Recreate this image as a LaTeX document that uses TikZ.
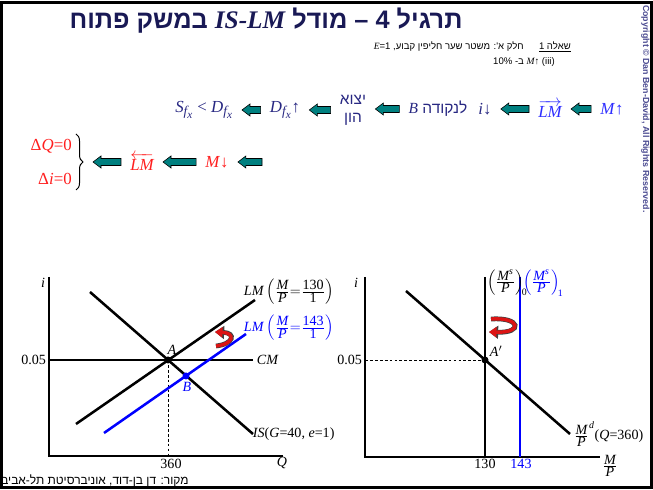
\documentclass[tikz,border=0pt]{standalone}
\usepackage{amsmath}
\usepackage{fontspec}
\setmainfont{Liberation Sans}
\newfontfamily\heb[Script=Hebrew]{Liberation Sans}
\newfontfamily\tms{Liberation Serif}
\TeXXeTstate=1
\usetikzlibrary{calc,arrows.meta,decorations.pathreplacing}

\definecolor{titlenavy}{RGB}{25,25,85}
\definecolor{chainnavy}{RGB}{40,40,130}
\definecolor{chainblue}{RGB}{45,45,255}
\definecolor{redtxt}{RGB}{255,30,30}
\definecolor{arrteal}{RGB}{0,128,128}
\definecolor{hookred}{RGB}{220,20,20}
\definecolor{copyblue}{RGB}{75,75,145}

\newcommand\mvar[1]{\text{\tms\itshape #1}}
\newcommand\fv[1]{\mbox{\tms\itshape #1}}
\newcommand\fn[1]{\mbox{\tms #1}}
\newcommand\supv[1]{\mbox{\tms\itshape\fontsize{7}{8}\selectfont #1}}
\newcommand\fxsub{\mbox{\tms\itshape\fontsize{9.5}{11}\selectfont f\raisebox{-2pt}{\fontsize{8}{9}\selectfont x}}}

\begin{document}
\begin{tikzpicture}[x=0.025cm,y=-0.025cm,
  flowtxt/.style={inner sep=0pt, font=\tms\fontsize{12}{14}\selectfont},
  hebtxt/.style={inner sep=0pt, font=\heb\fontsize{11}{13}\selectfont},
  blockarr/.style={draw=black, line width=0.4pt, fill=arrteal,
    to path={let \p1=(\tikztostart), \p2=(\tikztotarget) in
      (\x1-6.4pt,\y1+2.5pt) -- (\x2+12.1pt,\y1+2.5pt) -- (\x2+12.1pt,\y1+4.3pt)
      -- (\x2+6.4pt,\y1) -- (\x2+12.1pt,\y1-4.3pt) -- (\x2+12.1pt,\y1-2.5pt)
      -- (\x1-6.4pt,\y1-2.5pt) -- cycle}},
  gline/.style={line width=1.8pt},
  axisl/.style={line width=1.1pt},
  guide/.style={line width=0.5pt, dash pattern=on 2pt off 1.5pt},
  glabel/.style={inner sep=0.5pt, font=\tms\fontsize{10}{12}\selectfont},
  hookback/.style={line width=3.4pt, draw=black!75, -{Triangle[length=6.5pt,width=9pt]}},
  hookfront/.style={line width=2.4pt, draw=hookred, -{Triangle[length=5.3pt,width=7.2pt]}}]
\useasboundingbox (0,0) rectangle (653,490);

% heading
\node[font=\heb\bfseries\fontsize{18}{22}\selectfont, text=titlenavy] (title) at (266,21)
  {\beginR תרגיל 4 – מודל \beginL{\tms\bfseries\itshape IS-LM}\endL{} במשק פתוח\endR};
\node[anchor=east, inner sep=0pt, font=\heb\fontsize{6.8}{8}\selectfont] (q1) at (571,47)
  {\beginR\underline{\beginR שאלה 1\endR}\hspace{1.6em}חלק א': משטר שער חליפין קבוע, \beginL{\tms\itshape E}{\rmfamily =1}\endL\endR};
\node[anchor=east, inner sep=0pt, font=\heb\fontsize{6.8}{8}\selectfont] (q2) at (555,62)
  {\beginR\beginL{\rmfamily (iii)}\endL{} \beginL{\tms\itshape M}{\tms ↑}\endL{} ב- {\rmfamily 10\%}\endR};

% upper chain
\node[flowtxt, text=chainblue] (mup) at (612,109) {\textit{M}↑};
\node[flowtxt, text=chainblue] (lmr) at (550,109) {$\overrightarrow{\mvar{LM}}$};
\node[flowtxt, text=chainnavy] (idn) at (485,109) {\textit{i}↓};
\node[hebtxt, text=chainnavy] (topb) at (438,109) {\beginR לנקודה \beginL{\tms\itshape B}\endL\endR};
\node[hebtxt, text=chainnavy, align=center] (capx) at (353,110) {\beginR יצוא\endR\\\beginR הון\endR};
\node[flowtxt, text=chainnavy] (dfu) at (285,110) {$\fv{D}_{\fxsub}$↑};
\node[flowtxt, text=chainnavy] (sd) at (204,110)
  {$\fv{S}_{\fxsub}$ < $\fv{D}_{\fxsub}$};
\draw[blockarr] (mup.west) to (lmr.east);
\draw[blockarr] (lmr.west) to (idn.east);
\draw[blockarr] (topb.west) to (capx.east);
\draw[blockarr] (capx.west) to (dfu.east);
\draw[blockarr] (dfu.west) to (sd.east);

% lower chain
\coordinate (rstart) at (271,162);
\coordinate (brtop) at (76,134);
\coordinate (brbot) at (76,190);
\coordinate (brtip) at (84,162);
\node[flowtxt, text=redtxt] (mdn) at (217,162) {\textit{M}↓};
\node[flowtxt, text=redtxt] (lml) at (142,162) {$\overleftarrow{\mvar{LM}}$};
\node[flowtxt, text=redtxt, anchor=east] (dq) at (72,146) {Δ\textit{Q}=0};
\node[flowtxt, text=redtxt, anchor=east] (di) at (72,179) {Δ\textit{i}=0};
\draw[line width=0.7pt, decorate, decoration={brace, amplitude=5pt}] (brtop) -- (brbot);
\draw[blockarr] (rstart) to (mdn.east);
\draw[blockarr] (mdn.west) to (lml.east);
\draw[blockarr] (lml.west) to (brtip);

% left graph: IS-LM
\coordinate (o1) at (49,456);
\coordinate (ptA) at (168,360);
\coordinate (ptB) at (186,376);
\draw[axisl] (49,277) -- (o1) -- (283,456);
\draw[guide] (ptA) -- (168,456);
\draw[gline] (49,360) -- (253,360);
\draw[gline] (90,292) -- (253,434);
\draw[gline] (76,424) -- (255,300);
\draw[gline, blue] (104,433) -- (246,334);
\fill (ptA) circle (3.5);
\fill[blue] (ptB) circle (3.5);
\draw[hookback] (216,346) .. controls (234,344) and (236,333) .. (215,332);
\draw[hookfront] (216,346) .. controls (234,344) and (236,333) .. (215,332);
\node[glabel] (i1) at (43,283) {\textit{i}};
\node[glabel, anchor=east] (r1) at (47,360) {0.05};
\node[glabel] (q0) at (171,464) {360};
\node[glabel] (qax) at (282,463) {\textit{Q}};
\node[glabel, anchor=west] (cm) at (256,360) {\textit{CM}};
\node[glabel] (lA) at (172,350) {\textit{A}};
\node[glabel, text=blue] (lB) at (187,387) {\textit{B}};
\node[glabel, anchor=west] (lm0) at (243,292)
  {\textit{LM}\,$\left(\frac{\fv{M}}{\fv{P}}{=}\frac{\fn{130}}{\fn{1}}\right)$};
\node[glabel, anchor=west, text=blue] (lm1) at (243,328)
  {\textit{LM}\,$\left(\frac{\fv{M}}{\fv{P}}{=}\frac{\fn{143}}{\fn{1}}\right)$};
\node[glabel, anchor=west] (is) at (252,434) {\textit{IS}(\textit{G}=40, \textit{e}=1)};

% right graph: money market
\coordinate (o2) at (365,457);
\coordinate (ptA2) at (485,360);
\draw[axisl] (365,277) -- (o2) -- (600,457);
\draw[guide] (365,360) -- (ptA2);
\draw[gline] (485,277) -- (485,457);
\draw[gline, blue] (520,277) -- (520,457);
\draw[gline] (406,291) -- (570,434);
\fill (ptA2) circle (3.5);
\draw[hookback] (491,319) .. controls (521,317) and (523,333) .. (489,332);
\draw[hookfront] (491,319) .. controls (521,317) and (523,333) .. (489,332);
\node[glabel] (i2) at (356,283) {\textit{i}};
\node[glabel, anchor=east] (r2) at (363,360) {0.05};
\node[glabel] (m0) at (485,464) {130};
\node[glabel, text=blue] (m1) at (521,464) {143};
\node[glabel] (mpax) at (610,466) {$\frac{\fv{M}}{\fv{P}}$};
\node[glabel, anchor=west] (lA2) at (489,351) {\textit{A}$'$};
\node[glabel, anchor=west, inner sep=0pt] (ms0) at (487,283)
  {$\left(\frac{\fv{M}^{\supv{s}}}{\fv{P}}\right)_{\!\fn{\fontsize{7}{8}\selectfont 0}}$};
\node[glabel, anchor=west, inner sep=0pt, text=blue] (ms1) at (523,283)
  {$\left(\frac{\fv{M}^{\supv{s}}}{\fv{P}}\right)_{\!\fn{\fontsize{7}{8}\selectfont 1}}$};
\node[glabel, anchor=west] (md) at (573,434)
  {${\frac{\fv{M}}{\fv{P}}}^{\supv{d}}$(\textit{Q}=360)};

% frame, source, copyright
\draw[line width=2.2pt] (1.5,2.5) rectangle (651.5,487.5);
\node[anchor=west, inner sep=0pt, font=\heb\fontsize{8.5}{10}\selectfont] (src) at (1,481)
  {\beginR מקור: דן בן-דוד, אוניברסיטת תל-אביב\endR};
\node[rotate=-90, anchor=west, fill=white, inner sep=0.6pt, text=copyblue,
  font=\bfseries\fontsize{6.3}{7}\selectfont] (copy) at (645.5,4)
  {Copyright © Dan Ben-David, All Rights Reserved.};
\end{tikzpicture}
\end{document}
